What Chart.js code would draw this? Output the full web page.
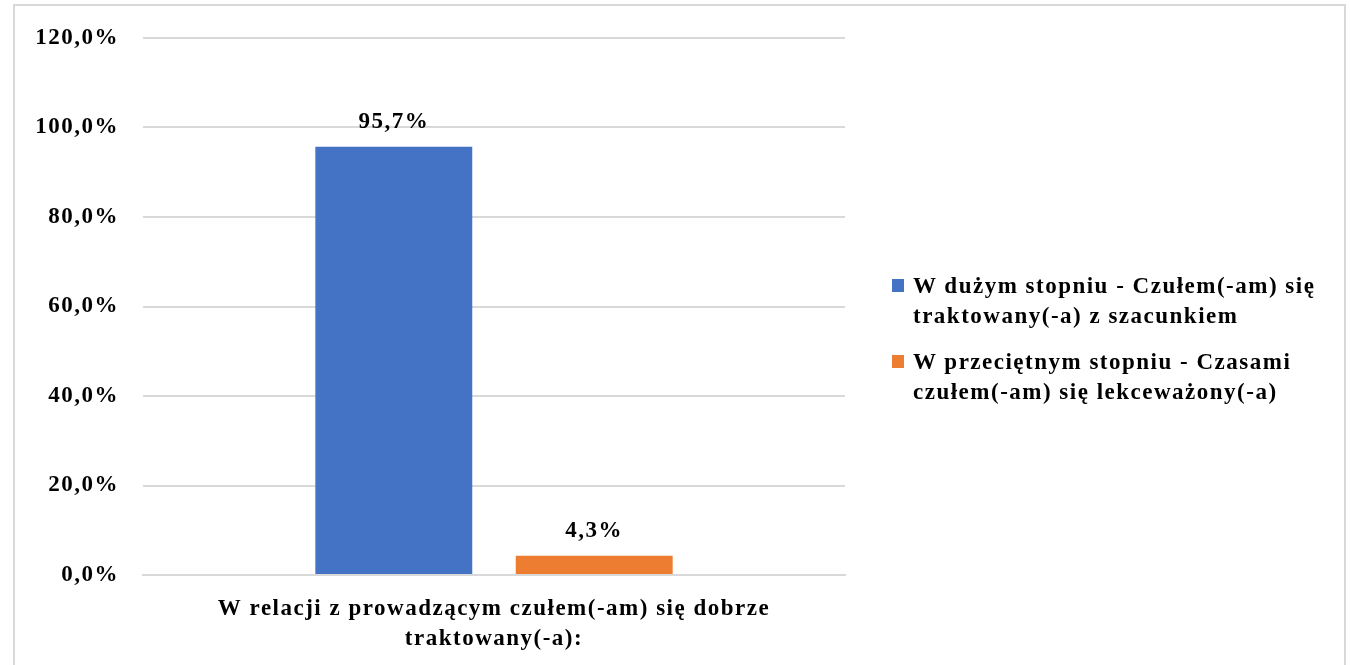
<!DOCTYPE html>
<html>
<head>
<meta charset="utf-8">
<script src="https://cdn.jsdelivr.net/npm/chart.js@4"></script>
<style>
  body { margin: 0; background: #fff; }
  #frame { position: absolute; left: 13px; top: 4px; width: 1329px; height: 700px; border: 2px solid #d9d9d9; }
  #wrap { position: absolute; left: 0; top: 0; width: 1350px; height: 665px; }
  #legend { position: absolute; left: 892px; top: 271px; width: 450px; font-family: "Liberation Serif", "Times New Roman", serif; font-weight: bold; font-size: 23px; letter-spacing: 1.5px; line-height: 30px; color: #000; white-space: nowrap; }
  #legend .item { position: relative; padding-left: 21px; margin-bottom: 16px; }
  #legend .box { position: absolute; left: 0; top: 8px; width: 12px; height: 13px; }
</style>
</head>
<body>
<div id="frame"></div>
<div id="wrap"><canvas id="chart" width="1350" height="665"></canvas></div>
<div id="legend"></div>
<script>
// categories and series
let categories = [['W relacji z prowadzącym czułem(-am) się dobrze', 'traktowany(-a):']];
let seriesNames = [
	['W dużym stopniu - Czułem(-am) się', 'traktowany(-a) z szacunkiem'],
	['W przeciętnym stopniu - Czasami', 'czułem(-am) się lekceważony(-a)']
];
let seriesValues = [[95.7], [4.3]];
let seriesColors = ['#4472C4', '#ED7D31'];
let yTicks = [0, 20, 40, 60, 80, 100, 120];

let font = "'Liberation Serif', 'Times New Roman', serif";
let spacing = '1.5px';
let pct = (v, d) => v.toFixed(d).replace('.', ',') + '%';

// the original text is a bit spread out
let letterSpacing = {
	id: 'letterSpacing',
	beforeInit(chart) { chart.ctx.letterSpacing = spacing; },
	beforeUpdate(chart) { chart.ctx.letterSpacing = spacing; },
	beforeDraw(chart) { chart.ctx.letterSpacing = spacing; }
};

// value labels above bars
let valueLabels = {
	id: 'valueLabels',
	afterDatasetsDraw(chart) {
		let ctx = chart.ctx;
		ctx.save();
		ctx.font = 'bold 23px ' + font;
		ctx.fillStyle = '#000';
		ctx.textAlign = 'center';
		ctx.textBaseline = 'alphabetic';
		chart.data.datasets.forEach((ds, i) => {
			chart.getDatasetMeta(i).data.forEach((bar, j) => {
				ctx.fillText(pct(ds.data[j], 1), bar.x, bar.y - 19);
			});
		});
		ctx.restore();
	}
};

let data = {
	labels: categories,
	datasets: seriesNames.map((name, i) => ({
		label: name.join(' '),
		data: seriesValues[i],
		backgroundColor: seriesColors[i],
		categoryPercentage: 0.571,
		barPercentage: 0.783,
	}))
};

let chart = new Chart(document.getElementById('chart'), {
	type: 'bar',
	data,
	plugins: [letterSpacing, valueLabels],
	options: {
		responsive: false,
		animation: false,
		layout: { padding: { top: 38, right: 505, left: 0, bottom: 0 } },
		plugins: { legend: { display: false }, tooltip: { enabled: false } },
		scales: {
			x: {
				grid: { display: false, drawTicks: false },
				border: { color: '#d9d9d9', width: 2 },
				ticks: { color: '#000', padding: 19, font: { family: font, weight: 'bold', size: 23, lineHeight: '30px' } },
				afterFit: (s) => { s.height = 90; }
			},
			y: {
				min: 0,
				max: 120,
				afterBuildTicks: (s) => { s.ticks = yTicks.map(v => ({ value: v })); },
				grid: { color: '#d9d9d9', lineWidth: 2, drawTicks: false },
				border: { display: false },
				ticks: { color: '#000', padding: 24, callback: v => pct(v, 1), font: { family: font, weight: 'bold', size: 23 } },
				afterFit: (s) => { s.width = 143; }
			}
		}
	}
});

// html legend from the datasets
let legend = document.getElementById('legend');
seriesNames.forEach((name, i) => {
	let item = document.createElement('div');
	item.className = 'item';
	item.innerHTML = '<span class="box" style="background:' + seriesColors[i] + '"></span>' + name[0] + '<br>' + name[1];
	legend.appendChild(item);
});
</script>
</body>
</html>
